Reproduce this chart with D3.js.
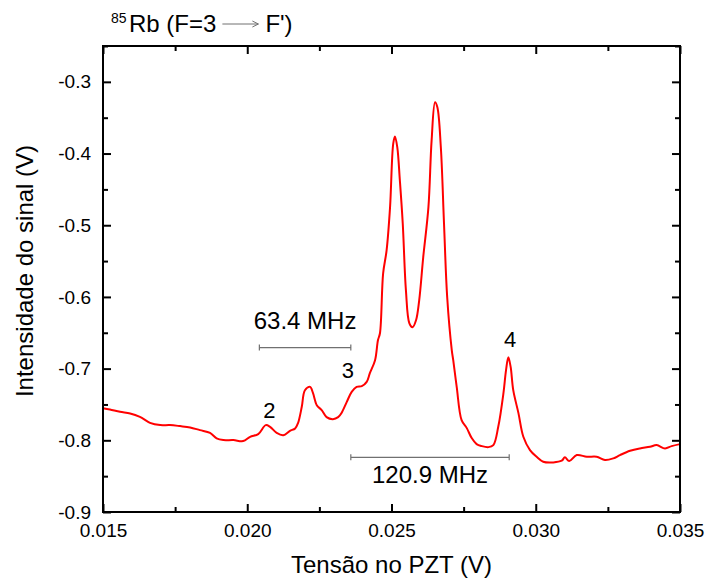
<!DOCTYPE html>
<meta charset="utf-8">
<head>
    <style>
        body {margin: 0; background: #fff;}
        text {font-family: Arial, "Liberation Sans", sans-serif; fill: black;}
        .tick text {font-size: 19px;}
        .tick line {stroke: black; stroke-width: 2px;}
        .trace {fill: none; stroke: #ff0000; stroke-width: 2px; stroke-linejoin: round;}
        .span {stroke: #707070; stroke-width: 1.2px; fill: none;}
    </style>
    <script src="https://d3js.org/d3.v7.min.js"></script>
</head>
<body>
<script>

    // PZT voltage (V) and signal (V)
    var voltage = [0.01500, 0.01524, 0.01559, 0.01594, 0.01628, 0.01663, 0.01698, 0.01732, 0.01767, 0.01802,
                   0.01836, 0.01871, 0.01894, 0.01917, 0.01952, 0.01986, 0.02010, 0.02038, 0.02064, 0.02079,
                   0.02102, 0.02125, 0.02148, 0.02166, 0.02176, 0.02189, 0.02200, 0.02218, 0.02228, 0.02241,
                   0.02258, 0.02275, 0.02297, 0.02315, 0.02327, 0.02345, 0.02362, 0.02379, 0.02397, 0.02414,
                   0.02425, 0.02443, 0.02453, 0.02460, 0.02471, 0.02483, 0.02495, 0.02506, 0.02512, 0.02520,
                   0.02529, 0.02539, 0.02550, 0.02562, 0.02573, 0.02585, 0.02596, 0.02610, 0.02628, 0.02639,
                   0.02651, 0.02659, 0.02671, 0.02682, 0.02693, 0.02709, 0.02714, 0.02726, 0.02743, 0.02761,
                   0.02778, 0.02795, 0.02813, 0.02836, 0.02853, 0.02870, 0.02888, 0.02897, 0.02905, 0.02913,
                   0.02922, 0.02940, 0.02957, 0.02980, 0.03003, 0.03026, 0.03061, 0.03090, 0.03101, 0.03116,
                   0.03142, 0.03177, 0.03211, 0.03240, 0.03269, 0.03292, 0.03327, 0.03361, 0.03396, 0.03419,
                   0.03448, 0.03471, 0.03500];
    var signal = [-0.7552, -0.7570, -0.7603, -0.7625, -0.7673, -0.7756, -0.7788, -0.7788, -0.7802, -0.7820,
                  -0.7858, -0.7896, -0.7974, -0.7997, -0.7997, -0.8011, -0.7951, -0.7914, -0.7788, -0.7812,
                  -0.7896, -0.7928, -0.7868, -0.7834, -0.7760, -0.7533, -0.7301, -0.7255, -0.7343, -0.7510,
                  -0.7579, -0.7677, -0.7705, -0.7677, -0.7617, -0.7464, -0.7324, -0.7255, -0.7245, -0.7185,
                  -0.7064, -0.6883, -0.6604, -0.6507, -0.5671, -0.5351, -0.4748, -0.3861, -0.3763, -0.3912,
                  -0.4376, -0.4975, -0.5908, -0.6368, -0.6423, -0.6326, -0.6047, -0.5444, -0.4748, -0.3819,
                  -0.3285, -0.3355, -0.3912, -0.4975, -0.6001, -0.6744, -0.6883, -0.7255, -0.7719, -0.7830,
                  -0.7969, -0.8053, -0.8081, -0.8095, -0.8067, -0.7812, -0.7343, -0.7022, -0.6841, -0.6976,
                  -0.7301, -0.7621, -0.7951, -0.8136, -0.8230, -0.8299, -0.8308, -0.8285, -0.8238, -0.8290,
                  -0.8206, -0.8230, -0.8230, -0.8276, -0.8252, -0.8206, -0.8146, -0.8113, -0.8091, -0.8067,
                  -0.8113, -0.8081, -0.8053];

    var xTicks = [0.015, 0.020, 0.025, 0.030, 0.035],
        xMinor = [0.0175, 0.0225, 0.0275, 0.0325],
        yTicks = [-0.9, -0.8, -0.7, -0.6, -0.5, -0.4, -0.3],
        yMinor = [-0.85, -0.75, -0.65, -0.55, -0.45, -0.35, -0.25];

    // numbered peaks
    var peakNames = ["2", "3", "4"],
        peakX = [0.02077, 0.02349, 0.02911],
        peakY = [-0.7691, -0.7134, -0.6702];

    // frequency spacings
    var spanNames = ["63.4 MHz", "120.9 MHz"],
        spanFrom = [0.02042, 0.02359],
        spanTo = [0.02359, 0.02908],
        spanY = [-0.6706, -0.8238],
        spanTextY = [-0.6451, -0.8596];

    var margin = {top: 46, right: 28, bottom: 66, left: 103},
        width = 708 - margin.left - margin.right,
        height = 578 - margin.top - margin.bottom;

    var x = d3.scaleLinear()
        .domain([0.015, 0.035])
        .range([0, width]);

    var y = d3.scaleLinear()
        .domain([-0.9, -0.25])
        .range([height, 0]);

    var root = d3.select("body").append("svg")
        .attr("width", 708)
        .attr("height", 578);

    var svg = root.append("g")
        .attr("transform", "translate(" + margin.left + "," + margin.top + ")");

    // axes, ticks pointing inwards
    function clean(g) { g.select(".domain").remove(); }

    svg.append("g")
        .attr("transform", "translate(0," + height + ")")
        .call(d3.axisBottom(x).tickValues(xTicks).tickFormat(d3.format(".3f")).tickSizeInner(-8).tickSizeOuter(0).tickPadding(12))
        .call(clean);
    svg.append("g")
        .attr("transform", "translate(0," + height + ")")
        .call(d3.axisBottom(x).tickValues(xMinor).tickFormat("").tickSizeInner(-5).tickSizeOuter(0))
        .call(clean);
    svg.append("g")
        .call(d3.axisTop(x).tickValues(xTicks).tickFormat("").tickSizeInner(-8).tickSizeOuter(0))
        .call(clean);
    svg.append("g")
        .call(d3.axisTop(x).tickValues(xMinor).tickFormat("").tickSizeInner(-5).tickSizeOuter(0))
        .call(clean);

    svg.append("g")
        .call(d3.axisLeft(y).tickValues(yTicks).tickFormat(d3.format(".1f")).tickSizeInner(-8).tickSizeOuter(0).tickPadding(12))
        .call(clean);
    svg.append("g")
        .call(d3.axisLeft(y).tickValues(yMinor).tickFormat("").tickSizeInner(-5).tickSizeOuter(0))
        .call(clean);
    svg.append("g")
        .attr("transform", "translate(" + width + ",0)")
        .call(d3.axisRight(y).tickValues(yTicks).tickFormat("").tickSizeInner(-8).tickSizeOuter(0))
        .call(clean);
    svg.append("g")
        .attr("transform", "translate(" + width + ",0)")
        .call(d3.axisRight(y).tickValues(yMinor).tickFormat("").tickSizeInner(-5).tickSizeOuter(0))
        .call(clean);

    // d3 format gives a real minus sign; the chart uses a hyphen
    svg.selectAll(".tick text").text(function() { return this.textContent.replace("\u2212", "-"); });

    // the trace
    var line = d3.line()
        .x(function(d, i) { return x(voltage[i]); })
        .y(function(d) { return y(d); })
        .curve(d3.curveCatmullRom.alpha(0.5));

    svg.append("path")
        .datum(signal)
        .attr("class", "trace")
        .attr("d", line);

    svg.append("rect")
        .attr("width", width)
        .attr("height", height)
        .attr("fill", "none")
        .attr("stroke", "black")
        .attr("stroke-width", 2);

    // peak numbers
    svg.selectAll(".peak")
        .data(peakNames)
      .enter().append("text")
        .attr("class", "peak")
        .attr("x", function(d, i) { return x(peakX[i]); })
        .attr("y", function(d, i) { return y(peakY[i]); })
        .attr("text-anchor", "middle")
        .style("font-size", "22px")
        .text(function(d) { return d; });

    // spacing brackets
    spanNames.forEach(function(name, i) {
        var x0 = x(spanFrom[i]), x1 = x(spanTo[i]), yy = y(spanY[i]);
        svg.append("path")
            .attr("class", "span")
            .attr("d", "M" + x0 + "," + yy + "H" + x1 +
                       "M" + x0 + "," + (yy - 3) + "V" + (yy + 3) +
                       "M" + x1 + "," + (yy - 3) + "V" + (yy + 3));
        svg.append("text")
            .attr("x", (x0 + x1) / 2)
            .attr("y", y(spanTextY[i]))
            .attr("text-anchor", "middle")
            .style("font-size", "24px")
            .text(name);
    });

    // axis titles
    root.append("text")
        .attr("x", margin.left + width / 2)
        .attr("y", 573)
        .attr("text-anchor", "middle")
        .style("font-size", "24px")
        .text("Tensão no PZT (V)");

    root.append("text")
        .attr("transform", "translate(33," + (margin.top + height / 2 - 8) + ") rotate(-90)")
        .attr("text-anchor", "middle")
        .style("font-size", "24px")
        .text("Intensidade do sinal (V)");

    // title: 85Rb (F=3 -> F')
    var title = root.append("g");
    title.append("text")
        .attr("x", 111).attr("y", 23)
        .style("font-size", "14px")
        .text("85");
    var t1 = title.append("text")
        .attr("x", 129).attr("y", 32)
        .style("font-size", "24px")
        .text("Rb (F=3");
    var ax = 129 + t1.node().getComputedTextLength() + 6;
    title.append("path")
        .attr("d", "M" + ax + ",24H" + (ax + 36) + "M" + (ax + 30) + ",21L" + (ax + 36) + ",24L" + (ax + 30) + ",27")
        .attr("fill", "none")
        .attr("stroke", "#707070")
        .attr("stroke-width", 1);
    title.append("text")
        .attr("x", ax + 43).attr("y", 32)
        .style("font-size", "24px")
        .text("F')");

</script>
</body>
